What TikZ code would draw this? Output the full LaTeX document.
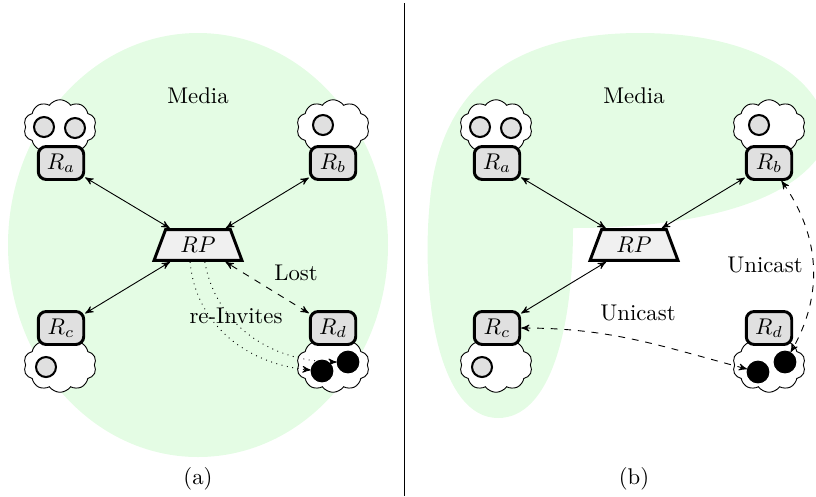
\documentclass[tikz,border=0pt]{standalone}
\usetikzlibrary{arrows,shapes.geometric,shapes.symbols}
\definecolor{mediagreen}{RGB}{228,252,228}

\begin{document}
\begin{tikzpicture}[x=0.44pt,y=-0.44pt,>=stealth',
        router node/.style={draw,rounded corners=3.5pt,line width=1.3pt,fill=black!12,minimum width=20pt,minimum height=14.5pt,inner sep=1pt},
        rp node/.style={trapezium,trapezium left angle=60,trapezium right angle=60,trapezium stretches body,draw,line width=1.3pt,fill=black!6,minimum width=38.7pt,minimum height=13.6pt,inner sep=1pt},
        cloud node/.style={cloud,cloud puffs=10,cloud puff arc=110,aspect=1.5,draw,fill=white,minimum width=32pt,minimum height=24pt,inner sep=0pt},
        member node/.style={circle,draw,line width=0.9pt,fill=black!12,minimum size=8.8pt,inner sep=0pt},
        lost node/.style={circle,draw,fill=black,minimum size=9.6pt,inner sep=0pt}]
        \useasboundingbox (0,0) rectangle (816,496);

        % media area
        \fill[mediagreen] (198,245) ellipse [x radius=190, y radius=212];
        \fill[mediagreen] (573,228) .. controls (690,228) and (780,205) .. (816,160)
            -- (816,100) .. controls (790,60) and (730,33) .. (640,33)
            .. controls (510,33) and (440,90) .. (430,200)
            .. controls (420,300) and (440,418) .. (498,418)
            .. controls (550,418) and (573,330) .. (573,228) -- cycle;
        \draw (404,3) -- (404,496);

        % (a)
        \node[cloud node] (ca) at (60,127) {};
        \node[cloud node] (cb) at (333,127) {};
        \node[cloud node] (cc) at (60,365) {};
        \node[cloud node] (cd) at (333,365) {};
        \node[router node] (Ra) at (61,163) {$R_a$};
        \node[router node] (Rb) at (333,163) {$R_b$};
        \node[router node] (Rc) at (61,328) {$R_c$};
        \node[router node] (Rd) at (333,328) {$R_d$};
        \node[rp node] (RP) at (198,245) {$RP$};
        \node[member node] (ma1) at (44,127) {};
        \node[member node] (ma2) at (75,128) {};
        \node[member node] (mb1) at (323,125) {};
        \node[member node] (mc1) at (46,367) {};
        \node[lost node] (md1) at (322,371) {};
        \node[lost node] (md2) at (348,362) {};
        \node at (198,96) {Media};
        \node at (296,273) {Lost};
        \node at (236,316) {re-Invites};
        \node at (198,479) {(a)};
        \path[<->]
        (Ra) edge (RP)
        (Rb) edge (RP)
        (Rc) edge (RP)
        (Rd) edge[dashed] (RP);
        \path[->,dotted]
        (RP.-115) edge[out=-85,in=175] (md1)
        (RP.-68) edge[out=-80,in=180] (md2);

        % (b)
        \node[cloud node] (ca2) at (496,127) {};
        \node[cloud node] (cb2) at (769,127) {};
        \node[cloud node] (cc2) at (496,365) {};
        \node[cloud node] (cd2) at (769,365) {};
        \node[router node] (Ra2) at (497,163) {$R_a$};
        \node[router node] (Rb2) at (769,163) {$R_b$};
        \node[router node] (Rc2) at (497,328) {$R_c$};
        \node[router node] (Rd2) at (769,328) {$R_d$};
        \node[rp node] (RP2) at (634,245) {$RP$};
        \node[member node] (ma3) at (480,127) {};
        \node[member node] (ma4) at (511,128) {};
        \node[member node] (mb2) at (759,125) {};
        \node[member node] (mc2) at (482,367) {};
        \node[lost node] (md3) at (758,372) {};
        \node[lost node] (md4) at (785,362) {};
        \node at (634,96) {Media};
        \node at (638,313) {Unicast};
        \node at (765,265) {Unicast};
        \node at (634,479) {(b)};
        \path[<->]
        (Ra2) edge (RP2)
        (Rb2) edge (RP2)
        (Rc2) edge (RP2)
        (Rc2) edge[dashed,out=0,in=165] (md3)
        (Rb2) edge[dashed,out=-55,in=60] (md4);
\end{tikzpicture}
\end{document}
